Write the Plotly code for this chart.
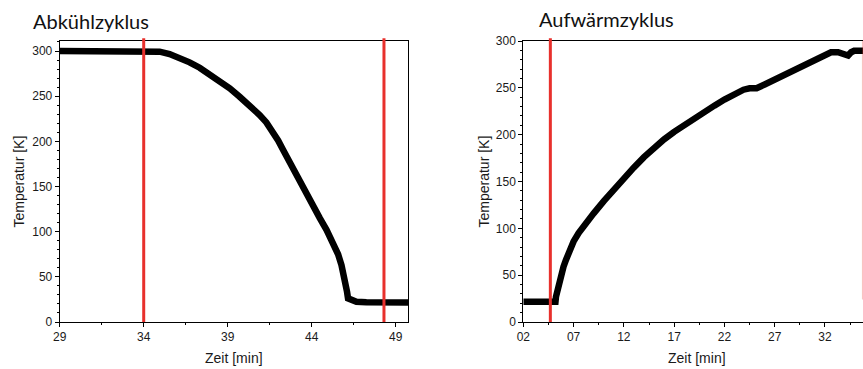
import plotly.graph_objects as go

# ---- data ----
cool_t = [29.0, 30.0, 31.0, 32.0, 33.0, 34.0, 34.95, 35.54, 36.14, 36.73, 37.33, 37.93,
          38.52, 39.12, 39.71, 40.31, 40.9, 41.3, 41.7, 42.0, 42.3, 42.69, 43.09, 43.29,
          43.68, 44.08, 44.48, 44.88, 45.27, 45.57, 45.77, 45.96, 46.07, 46.1, 46.16,
          46.4, 46.66, 47.25, 48.0, 49.0, 49.73]
cool_T = [300, 300, 300, 300, 300, 300, 299.3, 296.7, 292.6, 287.5, 281.5, 274.5,
          266.8, 258.7, 249.4, 240.2, 229.2, 221, 211, 201, 190.5, 176.5, 162, 155,
          141, 128, 115, 102, 88, 75, 63, 50, 41, 33.6, 26.2,
          23.8, 22.5, 21.8, 21.7, 21.7, 21.7]

warm_t = [2.0, 3.0, 4.0, 5.2, 5.25, 5.5, 5.75, 6.0, 6.25, 6.5, 6.75, 7.0, 7.5, 8.0,
          8.5, 9.0, 10.0, 11.0, 12.0, 13.0, 14.0, 15.0, 16.0, 17.0, 18.0, 19.0, 20.0, 21.0,
          22.0, 23.0, 23.9, 24.5, 25.2, 26.0, 27.0, 28.0, 29.0, 30.0, 31.0, 32.0, 32.6,
          33.3, 33.8, 34.3, 34.6, 34.9, 35.8]
warm_T = [21.7, 21.7, 21.7, 21.7, 27, 40, 50.5, 59, 66.5, 73.5, 80, 86, 95, 102.5,
          109.5, 116, 129, 141.5, 153.5, 165, 176, 186, 195, 203, 210.5, 217.5, 224.5, 231,
          237.5, 243.5, 248, 249.5, 249.5, 253.5, 259, 264.5, 270, 275, 280, 285, 288,
          288, 286, 284.5, 288, 289.6, 289.6]

cool_marks = [34.0, 48.3]
warm_marks = [4.69]
warm_edge_mark = [35.75]

cool_ticks = [29, 34, 39, 44, 49]
warm_ticks = [2, 7, 12, 17, 22, 27, 32]
warm_ticktext = ["02", "07", "12", "17", "22", "27", "32"]
y_ticks = [0, 50, 100, 150, 200, 250, 300]

titles = ["Abkühlzyklus", "Aufwärmzyklus"]
x_title = "Zeit [min]"
y_title = "Temperatur [K]"

W, H = 863, 369
TICKFONT = dict(family="Liberation Sans, Arial, sans-serif", size=12, color="#1a1a1a")
LBLFONT = dict(family="Liberation Sans, Arial, sans-serif", size=14, color="#1a1a1a")
TITLEFONT = dict(family="Lato, Carlito, Calibri, sans-serif", size=20, color="#111111")

fig = go.Figure()
fig.add_trace(go.Scatter(x=cool_t, y=cool_T, mode="lines",
                         line=dict(color="black", width=6.5),
                         xaxis="x", yaxis="y", showlegend=False, hoverinfo="skip"))
fig.add_trace(go.Scatter(x=warm_t, y=warm_T, mode="lines",
                         line=dict(color="black", width=6.5),
                         xaxis="x2", yaxis="y2", showlegend=False, hoverinfo="skip"))

# plot-area pixel boxes
L1, R1 = 59.7, 408.0
L2, R2 = 523.3, 863.0
TOP, BOT = 41.0, 322.0
ydom = [(H - BOT) / H, (H - TOP) / H]

axis_common = dict(showline=True, linecolor="black", linewidth=1, ticks="outside",
                   ticklen=4, tickwidth=1, tickcolor="black", showgrid=False,
                   zeroline=False, tickfont=TICKFONT, fixedrange=True, automargin=False)

fig.update_layout(
    width=W, height=H, margin=dict(l=0, r=0, t=0, b=0, autoexpand=False),
    paper_bgcolor="white", plot_bgcolor="white",
    xaxis=dict(domain=[L1 / W, R1 / W], range=[29, 49.73], tickvals=cool_ticks,
               mirror=True, anchor="y",
               minor=dict(ticks="outside", ticklen=2, tickcolor="black", tick0=29, dtick=2.5),
               **axis_common),
    yaxis=dict(domain=ydom, range=[0, 311.1], tickvals=y_ticks, mirror=True, anchor="x",
               minor=dict(ticks="outside", ticklen=2, tickcolor="black", tick0=0, dtick=10),
               **axis_common),
    xaxis2=dict(domain=[L2 / W, R2 / W], range=[2, 35.78], tickvals=warm_ticks,
                ticktext=warm_ticktext, mirror=True, anchor="y2",
                minor=dict(ticks="outside", ticklen=2, tickcolor="black", tick0=2, dtick=2.5),
                **axis_common),
    yaxis2=dict(domain=ydom, range=[0, 300], tickvals=y_ticks, mirror=False, anchor="x2",
                minor=dict(ticks="outside", ticklen=2, tickcolor="black", tick0=0, dtick=10),
                **axis_common),
)

RED = "#e8302c"
for xv in cool_marks:
    fig.add_shape(type="line", xref="x", yref="y domain", x0=xv, x1=xv, y0=0, y1=1.01,
                  line=dict(color=RED, width=3), layer="above")
for xv in warm_marks:
    fig.add_shape(type="line", xref="x2", yref="y2 domain", x0=xv, x1=xv, y0=0, y1=1.01,
                  line=dict(color=RED, width=3), layer="above")
for xv in warm_edge_mark:
    fig.add_shape(type="line", xref="x2", yref="y2 domain", x0=xv, x1=xv, y0=0.08, y1=1.0,
                  line=dict(color="rgba(235,60,50,0.3)", width=1.5), layer="above")

# titles
fig.add_annotation(text=titles[0], xref="paper", yref="paper", x=31 / W, y=1 - 21 / H,
                   xanchor="left", yanchor="middle", showarrow=False, font=TITLEFONT)
fig.add_annotation(text=titles[1], xref="paper", yref="paper", x=537 / W, y=1 - 18.5 / H,
                   xanchor="left", yanchor="middle", showarrow=False, font=TITLEFONT)

# axis titles
for cx in [(L1 + R1) / 2, 697]:
    fig.add_annotation(text=x_title, xref="paper", yref="paper", x=cx / W, y=(H - 358) / H,
                       xanchor="center", yanchor="middle", showarrow=False, font=LBLFONT)
for cx in [19, 484]:
    fig.add_annotation(text=y_title, xref="paper", yref="paper", x=cx / W,
                       y=(H - (TOP + BOT) / 2) / H, textangle=-90,
                       xanchor="center", yanchor="middle", showarrow=False, font=LBLFONT)

fig.write_html("out.html")
